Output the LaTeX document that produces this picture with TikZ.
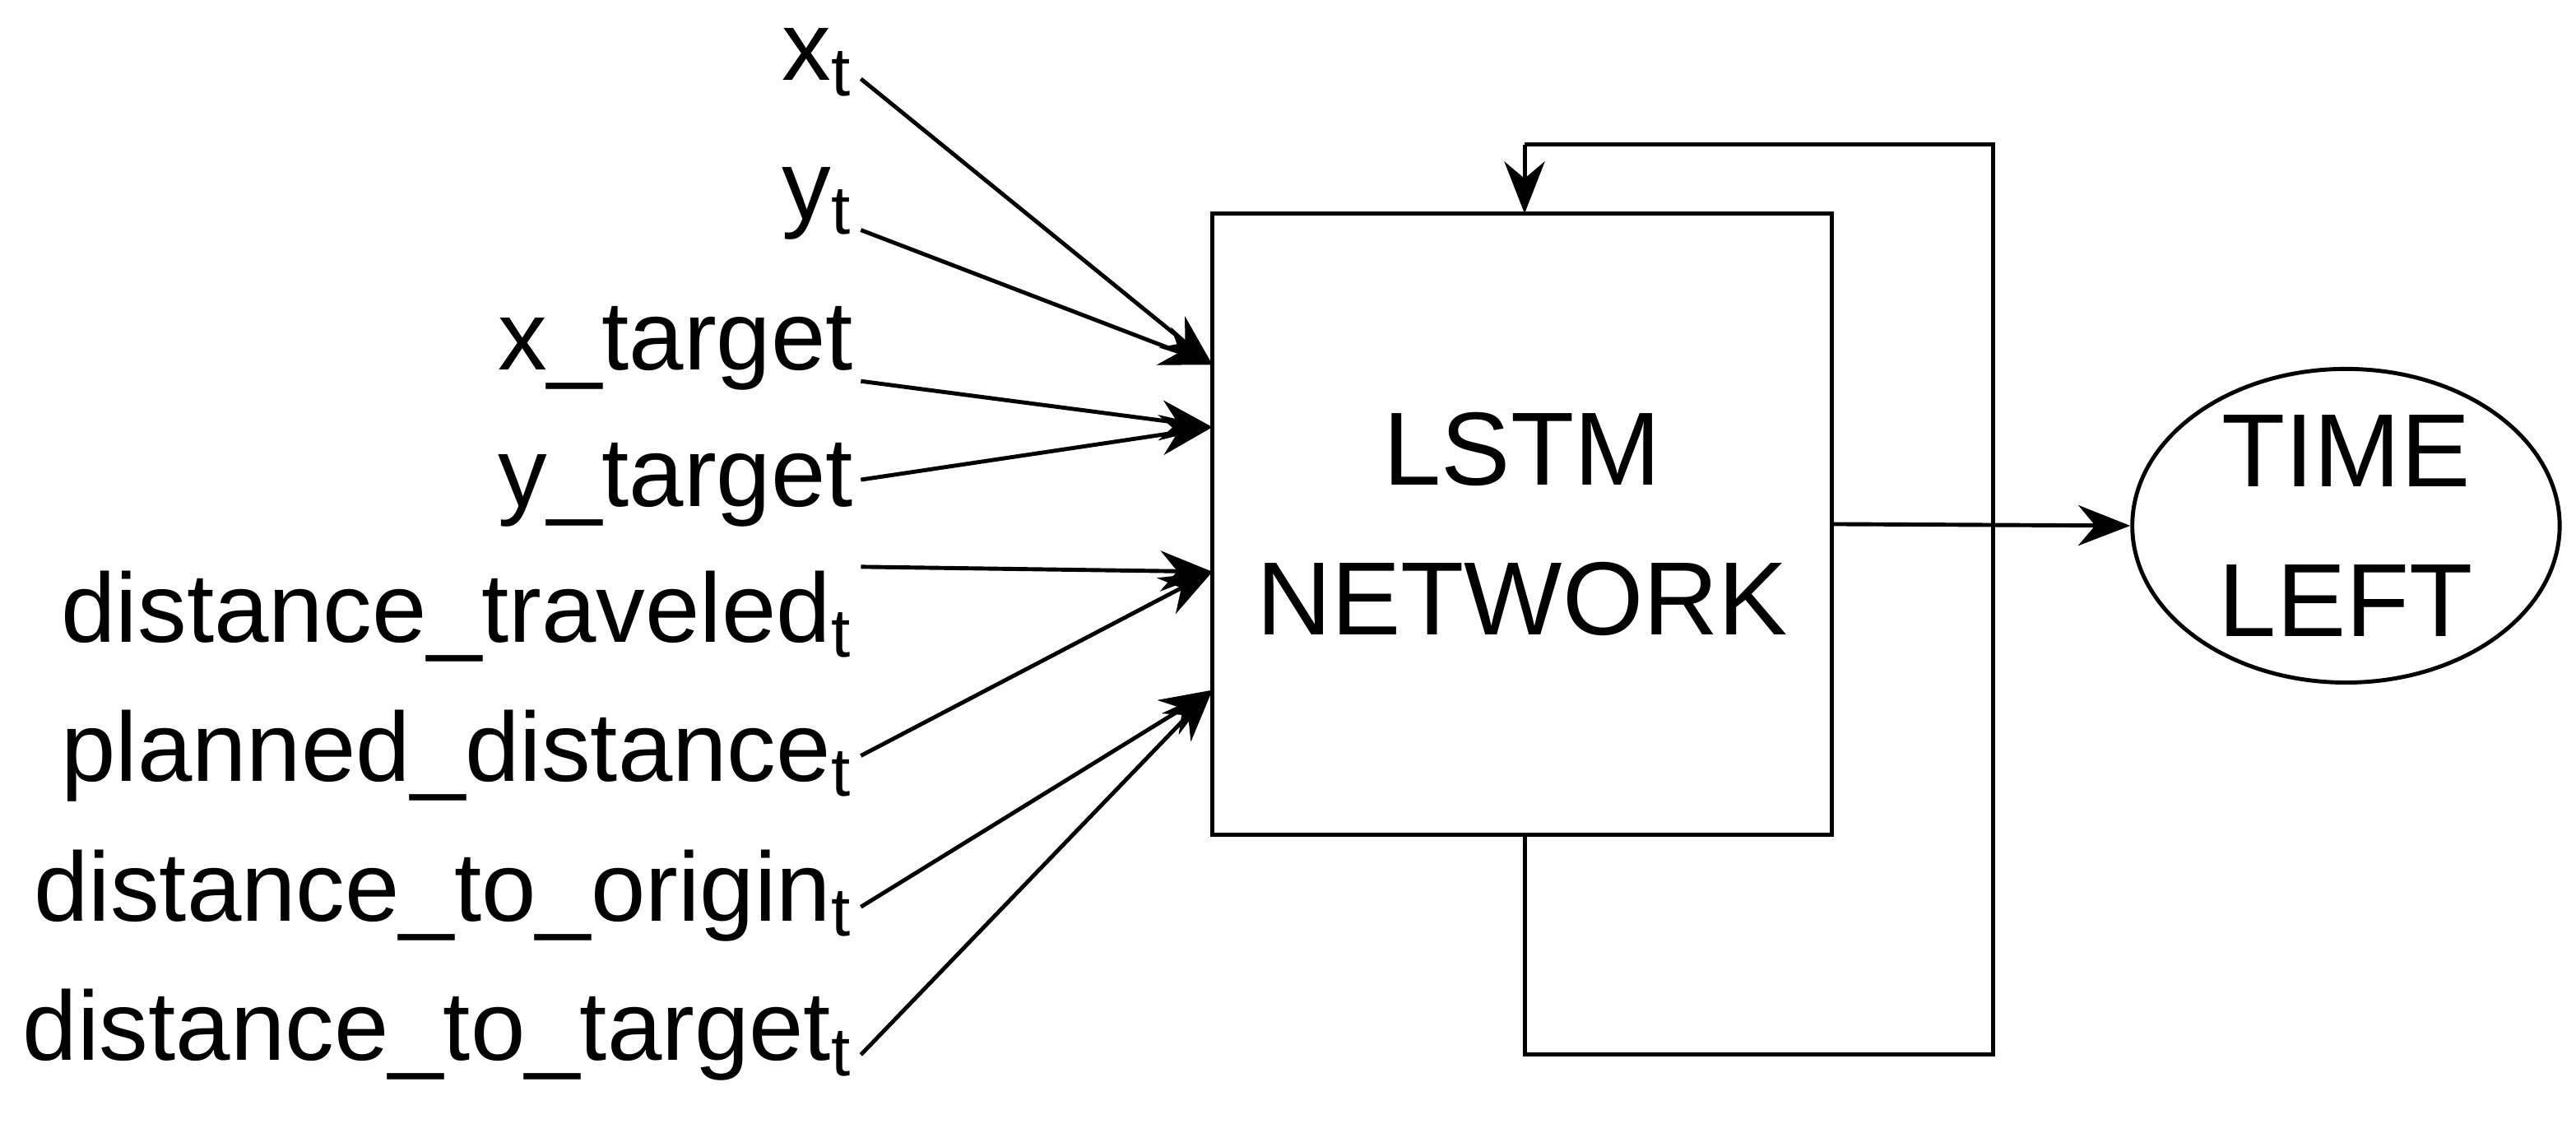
\documentclass[tikz,border=0pt]{standalone}
\usepackage{fontspec}
\setmainfont{Liberation Sans}
\usetikzlibrary{shapes.geometric,arrows.meta}
\begin{document}
\begin{tikzpicture}[x=0.01cm,y=-0.01cm,
  lbl/.style={anchor=east,inner sep=0pt,font=\fontsize{17}{20}\selectfont},
  arr/.style={-{Stealth[length=9pt,width=7pt]},line width=0.7pt},
  ln/.style={line width=0.7pt}]
\useasboundingbox (0,0) rectangle (1568,698);
\node[draw,ln,minimum width=3.77cm,minimum height=3.78cm,align=center,font=\fontsize{18}{26}\selectfont] (net) at (926.5,319) {LSTM\\NETWORK};
\node[draw,ln,ellipse,minimum width=2.6cm,minimum height=1.36cm,align=center,inner sep=0pt,font=\fontsize{18}{26}\selectfont] (out) at (1428,320) {TIME\\LEFT};
\draw[arr] (net.east) -- (out.west);
\coordinate (b1) at (928,642); \coordinate (b2) at (1213,642);
\coordinate (t1) at (1213,88); \coordinate (t2) at (928,88);
\coordinate (nb) at (928,508); \coordinate (nt) at (928,130);
\draw[ln] (nb) -- (b1) -- (b2) -- (t1) -- (t2);
\draw[arr] (t2) -- (nt);
\node[lbl] (l1) at (520,38) {x$_\mathrm{t}$};
\node[lbl] (l2) at (520,124) {y$_\mathrm{t}$};
\node[lbl] (l3) at (520,212) {x\_target};
\node[lbl] (l4) at (520,295) {y\_target};
\node[lbl] (l5) at (520,375) {distance\_traveled$_\mathrm{t}$};
\node[lbl] (l6) at (520,460) {planned\_distance$_\mathrm{t}$};
\node[lbl] (l7) at (520,545) {distance\_to\_origin$_\mathrm{t}$};
\node[lbl] (l8) at (520,630) {distance\_to\_target$_\mathrm{t}$};
\coordinate (a1) at (738,222); \coordinate (a2) at (738,260);
\coordinate (a3) at (738,348); \coordinate (a4) at (738,420);
\coordinate (s1) at (524,48); \coordinate (s2) at (524,140);
\coordinate (s3) at (524,232); \coordinate (s4) at (524,292);
\coordinate (s5) at (524,345); \coordinate (s6) at (524,460);
\coordinate (s7) at (524,552); \coordinate (s8) at (524,642);
\draw[arr] (s1) -- (a1); \draw[arr] (s2) -- (a1);
\draw[arr] (s3) -- (a2); \draw[arr] (s4) -- (a2);
\draw[arr] (s5) -- (a3); \draw[arr] (s6) -- (a3);
\draw[arr] (s7) -- (a4); \draw[arr] (s8) -- (a4);
\end{tikzpicture}
\end{document}
